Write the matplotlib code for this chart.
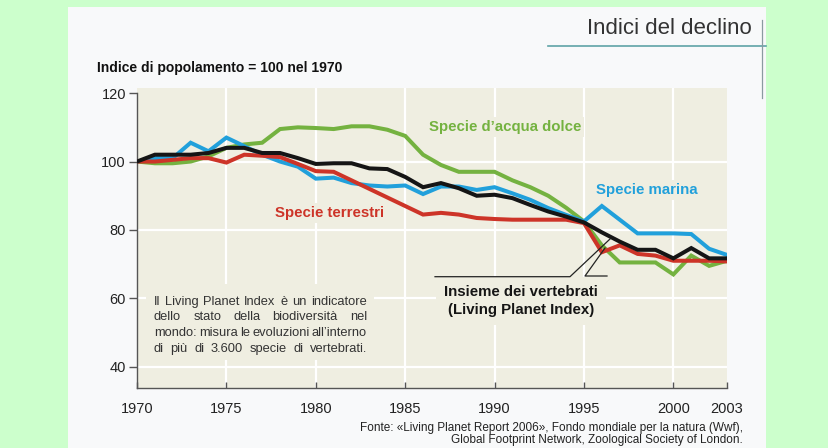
import matplotlib
matplotlib.use("Agg")
import matplotlib.pyplot as plt
from matplotlib.transforms import IdentityTransform
from matplotlib.patches import Rectangle
from matplotlib.lines import Line2D
from matplotlib import font_manager

# ---------------- data ----------------
years = list(range(1970, 2004))
freshwater = [100, 99.5, 99.5, 100, 101.5, 104, 105, 105.5, 109.5, 110,
              109.8, 109.5, 110.3, 110.3, 109.3, 107.5, 102, 99, 97, 97,
              97, 94.5, 92.5, 90, 86.5, 82.5, 75.5, 70.5, 70.5, 70.5,
              67, 72.5, 69.5, 71]
marine = [100, 101, 101, 105.5, 103, 107, 104.5, 102, 100, 98.5,
          95, 95.3, 93.7, 93, 92.7, 93, 90.5, 92.7, 92.7, 91.7,
          92.5, 90.7, 88.8, 86.4, 84.4, 82.5, 87, 83, 79, 79,
          79, 78.8, 74.5, 72.7]
terrestrial = [100, 100, 100.5, 101, 101, 99.7, 102, 101.7, 101.3, 99.3,
               97.2, 97, 94.5, 92, 89.5, 87, 84.5, 85, 84.5, 83.5,
               83.2, 83, 83, 83, 83, 82, 73.5, 75.5, 73, 72.5,
               71, 71, 71, 70.8]
lpi = [100, 102, 102, 102, 102.5, 104, 104, 102.5, 102.5, 101,
       99.3, 99.5, 99.5, 98, 97.8, 95.5, 92.5, 93.7, 92.2, 90,
       90.3, 89.3, 87.3, 85.4, 83.9, 82.2, 79.3, 76.6, 74.2, 74.2,
       71.7, 74.7, 71.7, 71.7]
xtick_values = [1970, 1975, 1980, 1985, 1990, 1995, 2000, 2003]
ytick_values = [40, 60, 80, 100, 120]
xgrid_values = [1975, 1980, 1985, 1990, 1995, 2000]
ygrid_values = [40, 60, 80, 100]

series_labels = ["Specie d\u2019acqua dolce", "Specie marina", "Specie terrestri",
                 "Insieme dei vertebrati\n(Living Planet Index)"]
title = "Indici del declino"
ylabel_text = "Indice di popolamento = 100 nel 1970"
note_lines = ["Il Living Planet Index è un indicatore",
              "dello stato della biodiversità nel",
              "mondo: misura le evoluzioni all\u2019interno",
              "di più di  3.600 specie di vertebrati."]
source_lines = ["Fonte: «Living Planet Report 2006», Fondo mondiale per la natura (Wwf),",
                "Global Footprint Network, Zoological Society of London."]

# ---------------- style ----------------
GREEN = "#74b240"
BLUE = "#21a0db"
RED = "#cd3428"
BLACK = "#151515"
CREAM = "#efeee1"
PANEL = "#f8f9fa"
OUTER = "#ccffcc"

avail = {f.name for f in font_manager.fontManager.ttflist}
NARROW = "Liberation Sans Narrow" if "Liberation Sans Narrow" in avail else "Liberation Sans"
plt.rcParams['font.family'] = ['Liberation Sans', 'DejaVu Sans']

W, H = 829, 448
fig = plt.figure(figsize=(W / 100, H / 100), dpi=100)
fig.patch.set_facecolor(OUTER)
ID = IdentityTransform()


def P(px, py):
    return (px, H - py)


# white page panel
fig.add_artist(Rectangle(P(68, 448), 766 - 68, 448 - 7, transform=ID,
                         facecolor=PANEL, edgecolor='none', zorder=0))

# axes: x 1970->px137, 2003->px727 ; y bottom px388, top px88
ax = fig.add_axes([137 / W, 60 / H, 590 / W, 300 / H])
ax.set_facecolor(CREAM)
ax.set_xlim(1970, 2003)
ax.set_ylim(33.8, 121.5)

for s in ['top', 'right']:
    ax.spines[s].set_visible(False)
for s in ['left', 'bottom']:
    ax.spines[s].set_color('#555555')
    ax.spines[s].set_linewidth(1.0)
ax.spines['left'].set_bounds(33.8, 120)

for xv in xgrid_values:
    ax.axvline(xv, color='white', lw=1.6, zorder=1)
for yv in ygrid_values:
    ax.axhline(yv, color='white', lw=1.6, zorder=1)

ax.set_xticks(xtick_values)
ax.set_xticklabels([str(v) for v in xtick_values])
ax.set_yticks(ytick_values)
ax.set_yticklabels([str(v) for v in ytick_values])
ax.tick_params(axis='x', direction='in', length=4, width=1, color='#555555',
               labelsize=10.5, pad=10, labelcolor='#222222')
ax.tick_params(axis='y', direction='out', length=6, width=1, color='#555555',
               labelsize=10.5, pad=2, labelcolor='#222222')

lw = 2.9
ax.plot(years, freshwater, color=GREEN, lw=lw, zorder=4, solid_joinstyle='miter')
ax.plot(years, marine, color=BLUE, lw=lw, zorder=5, solid_joinstyle='miter')
ax.plot(years, terrestrial, color=RED, lw=lw, zorder=6, solid_joinstyle='miter')
ax.plot(years, lpi, color=BLACK, lw=lw, zorder=7, solid_joinstyle='miter')

# series labels
lab_kw = dict(transform=ID, fontsize=10.8, fontweight='bold', zorder=3,
              bbox=dict(facecolor=CREAM, edgecolor='none', pad=2))
ax.text(*P(505, 127), series_labels[0], color=GREEN, ha='center', va='center', **lab_kw)
ax.text(*P(647, 190), series_labels[1], color=BLUE, ha='center', va='center', **lab_kw)
ax.text(*P(330, 213), series_labels[2], color=RED, ha='center', va='center', **lab_kw)
ax.text(*P(521, 301), series_labels[3], color=BLACK, ha='center', va='center',
        linespacing=1.35, transform=ID, fontsize=10.8, fontweight='bold', zorder=3,
        bbox=dict(facecolor=CREAM, edgecolor='none', pad=6))

# leader lines (pixel positions)
for pts in ([(435, 276.7), (570, 276.7), (610, 239)],
            [(607, 276), (585, 276), (605, 248)]):
    xs = [P(*p)[0] for p in pts]
    ys = [P(*p)[1] for p in pts]
    ax.add_line(Line2D(xs, ys, transform=ID, color='#222222', lw=0.9, zorder=8))

# note box covering grid
ax.add_patch(Rectangle(P(146, 360), 374 - 146, 360 - 284, transform=ID,
                       facecolor=CREAM, edgecolor='none', zorder=2))

# justified note text
fig.canvas.draw()
r = fig.canvas.get_renderer()
x0, x1 = 154, 367
ys_note = [301.5, 317, 333, 348.5]
for line, yy in zip(note_lines, ys_note):
    words = [w for w in line.split(' ') if w]
    objs = [ax.text(0, 0, w, transform=ID, fontsize=9.3, color='#333333',
                    va='center', ha='left', zorder=3) for w in words]
    widths = [o.get_window_extent(renderer=r).width for o in objs]
    gap = (x1 - x0 - sum(widths)) / (len(words) - 1)
    cx = x0
    for o, wd in zip(objs, widths):
        o.set_position(P(cx, yy))
        cx += wd + gap

# headings
fig.text(*P(752, 28), title, transform=ID, ha='right', va='center',
         fontsize=16, color='#333333')
fig.add_artist(Line2D([548, 766], [H - 46, H - 46], transform=ID,
                      color='#5fa3a6', lw=1.2))
fig.add_artist(Line2D([762, 762], [H - 20, H - 98], transform=ID,
                      color='#8a9aa0', lw=0.9))
fig.text(*P(97, 68), ylabel_text, transform=ID, ha='left', va='center',
         fontsize=11.8 if NARROW != "Liberation Sans" else 10,
         fontweight='bold', family=NARROW, color='#111111')

# source
fig.text(*P(743, 428), source_lines[0], transform=ID, ha='right', va='center',
         fontsize=8.5, color='#222222')
fig.text(*P(743, 440), source_lines[1], transform=ID, ha='right', va='center',
         fontsize=8.5, color='#222222')

fig.savefig("out.png", dpi=100, facecolor=fig.get_facecolor())
